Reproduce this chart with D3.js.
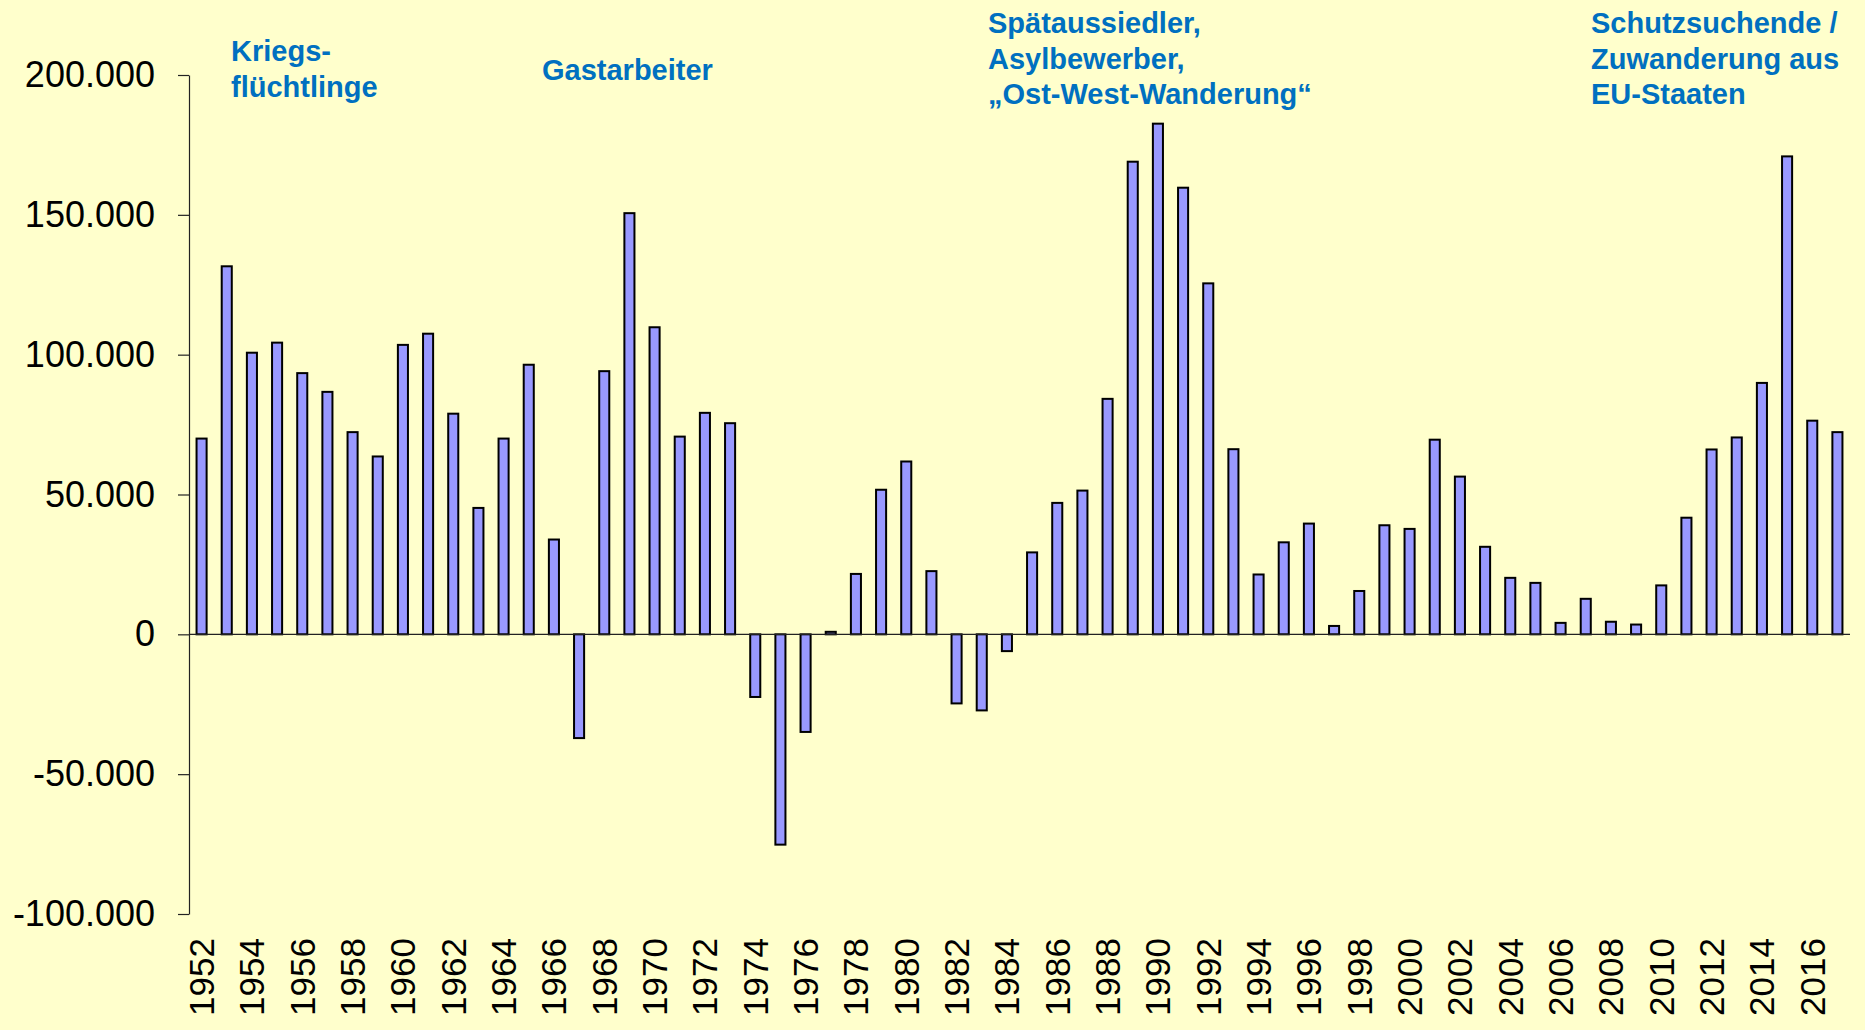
<!DOCTYPE html>
<html>
<head>
<meta charset="utf-8">
<script src="https://cdn.jsdelivr.net/npm/d3@7"></script>
<style>
  body { margin: 0; background: #FFFFCC; }
  text { font-family: "Liberation Sans", Arial, sans-serif; }
</style>
</head>
<body>
<div id="chart"></div>
<script>
var width = 1865;
var height = 1030;

// Wanderungssaldo pro Jahr
var years = [1952, 1953, 1954, 1955, 1956, 1957, 1958, 1959, 1960, 1961,
  1962, 1963, 1964, 1965, 1966, 1967, 1968, 1969, 1970, 1971,
  1972, 1973, 1974, 1975, 1976, 1977, 1978, 1979, 1980, 1981,
  1982, 1983, 1984, 1985, 1986, 1987, 1988, 1989, 1990, 1991,
  1992, 1993, 1994, 1995, 1996, 1997, 1998, 1999, 2000, 2001,
  2002, 2003, 2004, 2005, 2006, 2007, 2008, 2009, 2010, 2011,
  2012, 2013, 2014, 2015, 2016, 2017];
var saldo = [70000, 131600, 100700, 104300, 93400, 86700, 72300, 63600, 103500, 107500,
  78900, 45200, 70000, 96400, 33900, -37100, 94100, 150600, 109800, 70700,
  79200, 75500, -22400, -75200, -34900, 900, 21600, 51700, 61800, 22600,
  -24700, -27200, -6000, 29300, 47000, 51400, 84200, 169000, 182600, 159700,
  125500, 66200, 21400, 32900, 39600, 3000, 15500, 39000, 37700, 69600,
  56400, 31300, 20200, 18400, 4100, 12700, 4500, 3500, 17500, 41700,
  66100, 70400, 89900, 170900, 76400, 72300];

var yTicks = [-100000, -50000, 0, 50000, 100000, 150000, 200000];
var xTickYears = [1952, 1954, 1956, 1958, 1960, 1962, 1964, 1966, 1968, 1970,
  1972, 1974, 1976, 1978, 1980, 1982, 1984, 1986, 1988, 1990,
  1992, 1994, 1996, 1998, 2000, 2002, 2004, 2006, 2008, 2010,
  2012, 2014, 2016];

// Beschriftungen der Phasen
var phaseLabels = [
  ["Kriegs-", "flüchtlinge"],
  ["Gastarbeiter"],
  ["Spätaussiedler,", "Asylbewerber,", "\u201EOst-West-Wanderung\u201C"],
  ["Schutzsuchende /", "Zuwanderung aus", "EU-Staaten"]
];
var phasePos = [
  {x: 231, y: 61, step: 36},
  {x: 542, y: 80, step: 36},
  {x: 988, y: 33, step: 35.5},
  {x: 1591, y: 33, step: 35.5}
];

var de = d3.formatLocale({decimal: ",", thousands: ".", grouping: [3], currency: ["", " €"], minus: "-"});
var fmt = de.format(",d");

// plot area (avoid the global name "top")
var plotLeft = 189, plotRight = 1850, plotTop = 75, plotBottom = 914;

var svg = d3.select("#chart")
  .append("svg")
  .attr("width", width)
  .attr("height", height)
  .style("background-color", "#FFFFCC");

var x = d3.scaleBand()
  .domain(years)
  .range([plotLeft, plotRight])
  .paddingInner(0.6)
  .paddingOuter(0.3);

var y = d3.scaleLinear()
  .domain([-100000, 200000])
  .range([plotBottom, plotTop]);

// y axis
var yAxis = svg.append("g")
  .attr("transform", "translate(" + plotLeft + ",0)")
  .call(d3.axisLeft(y).tickValues(yTicks).tickFormat(fmt).tickSizeInner(11).tickSizeOuter(0).tickPadding(23));
yAxis.select(".domain").attr("stroke", "#222").attr("stroke-width", 1.2);
yAxis.selectAll(".tick line").attr("stroke", "#222").attr("stroke-width", 1.2);
yAxis.selectAll(".tick text")
  .attr("fill", "#000")
  .style("font-size", "36px")
  .style("font-family", "'Liberation Sans', Arial, sans-serif");

// bars
svg.append("g")
  .selectAll("rect")
  .data(saldo)
  .join("rect")
  .attr("x", function(d, i) { return x(years[i]); })
  .attr("y", function(d) { return y(Math.max(0, d)); })
  .attr("width", x.bandwidth())
  .attr("height", function(d) { return Math.abs(y(d) - y(0)); })
  .attr("fill", "#9999FF")
  .attr("stroke", "#000")
  .attr("stroke-width", 2);

// zero line
svg.append("line")
  .attr("x1", plotLeft)
  .attr("x2", plotRight)
  .attr("y1", y(0))
  .attr("y2", y(0))
  .attr("stroke", "#222")
  .attr("stroke-width", 1.2);

// year labels
svg.append("g")
  .selectAll("text")
  .data(xTickYears)
  .join("text")
  .attr("transform", function(d) {
    return "translate(" + (x(d) + x.bandwidth() / 2) + ",938) rotate(-90)";
  })
  .attr("text-anchor", "end")
  .attr("dy", "0.35em")
  .style("font-size", "35px")
  .attr("fill", "#000")
  .text(function(d) { return d; });

// phase annotations
phaseLabels.forEach(function(lines, k) {
  var p = phasePos[k];
  var t = svg.append("text")
    .attr("x", p.x)
    .attr("y", p.y)
    .attr("fill", "#0070C0")
    .style("font-size", "29px")
    .style("font-weight", "bold");
  lines.forEach(function(line, j) {
    t.append("tspan")
      .attr("x", p.x)
      .attr("y", p.y + j * p.step)
      .text(line);
  });
});
</script>
</body>
</html>
